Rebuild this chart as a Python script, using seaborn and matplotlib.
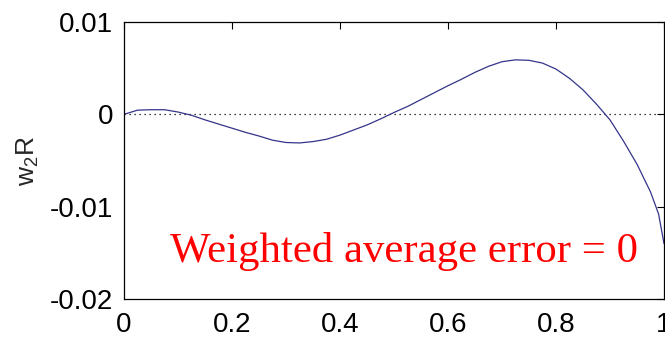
import seaborn as sns
import matplotlib.pyplot as plt
import numpy as np
import pandas as pd

# curve
x_vals = [0.0, 0.025, 0.05, 0.075, 0.1, 0.125, 0.15, 0.175, 0.2, 0.225,
          0.25, 0.275, 0.3, 0.325, 0.35, 0.375, 0.4, 0.425, 0.45, 0.475,
          0.5, 0.525, 0.55, 0.575, 0.6, 0.625, 0.65, 0.675, 0.7, 0.725,
          0.75, 0.775, 0.8, 0.825, 0.85, 0.875, 0.9, 0.925, 0.95, 0.975,
          0.99, 1.0]
w2r_vals = [0.0, 0.45, 0.5, 0.5, 0.25, -0.1, -0.6, -1.05, -1.5, -1.95,
            -2.35, -2.8, -3.05, -3.1, -2.95, -2.7, -2.25, -1.7, -1.15, -0.5,
            0.2, 0.85, 1.6, 2.35, 3.1, 3.8, 4.55, 5.2, 5.7, 5.9,
            5.85, 5.55, 4.9, 3.9, 2.65, 1.1, -0.6, -2.9, -5.4, -8.4,
            -10.8, -14.0]
w2r_vals = [v * 1e-3 for v in w2r_vals]

xticks = [0, 0.2, 0.4, 0.6, 0.8, 1]
xticklabels = ["0", "0.2", "0.4", "0.6", "0.8", "1"]
yticks = [-0.02, -0.01, 0, 0.01]
yticklabels = ["-0.02", "-0.01", "0", "0.01"]

sns.set_style("white")
plt.rcParams["font.family"] = ["Liberation Sans", "DejaVu Sans"]
plt.rcParams["mathtext.default"] = "regular"
plt.rcParams["axes.unicode_minus"] = False

df = pd.DataFrame({"x": x_vals, "w2R": w2r_vals})

fig = plt.figure(figsize=(6.65, 3.38), dpi=100)
ax = fig.add_axes([124 / 665, 39 / 338, 540 / 665, 277 / 338])

ax.axhline(0, color="black", linestyle=(0, (1, 3)), linewidth=0.9)
sns.lineplot(data=df, x="x", y="w2R", ax=ax, color="#34348a", linewidth=0.9)

ax.set_xlim(0, 1)
ax.set_ylim(-0.02, 0.01)
ax.set_xticks(xticks)
ax.set_xticklabels(xticklabels)
ax.set_yticks(yticks)
ax.set_yticklabels(yticklabels)
ax.tick_params(direction="in", length=5, width=0.8, top=True, right=True,
               labelsize=20, colors="black")
ax.tick_params(axis="x", pad=9)
ax.tick_params(axis="y", pad=8)
for s in ax.spines.values():
    s.set_color("black")
    s.set_linewidth(0.9)

ax.set_xlabel("")
ax.set_ylabel("w$_2$R", fontsize=19, labelpad=6)

ax.text(0.085, -0.016, "Weighted average error = 0", color="red",
        fontsize=30.8, family=["Liberation Serif", "DejaVu Serif"],
        ha="left", va="baseline")

fig.savefig("out.png", dpi=100)
